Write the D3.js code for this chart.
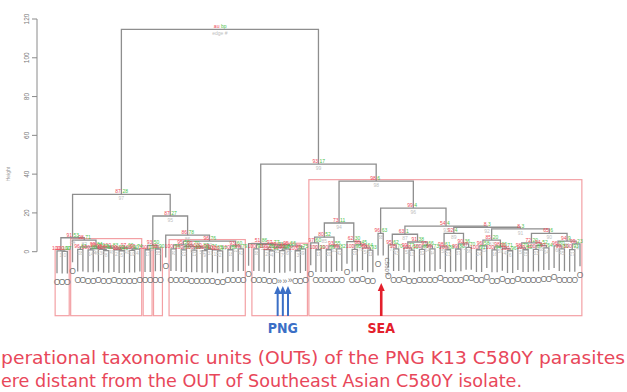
<!DOCTYPE html>
<html lang="en">
<head>
<meta charset="UTF-8">
<title>pvclust dendrogram of K13 C580Y isolates</title>
<script src="https://cdnjs.cloudflare.com/ajax/libs/d3/7.8.5/d3.min.js"></script>
<style>
  * { margin: 0; padding: 0; }
  body { background: #fff; width: 627px; height: 392px; overflow: hidden; }
  svg { display: block; font-family: "Liberation Sans", Arial, sans-serif; }
</style>
</head>
<body>
<svg id="chart" width="627" height="392"></svg>
<script>
// clusters: [height, au, bp, left, right], 0 = a leaf (isolate)
const cladeBox1 = [0.4, 100, 100, 0, [0.2, 100, 97, 0, 0]];
const cladeBox2 = [6.0, 98, 71, 0,
  [2.5, 99, 64, [1.2, 96, 62, 0, 0],
    [2.0, 100, 83,
      [1.6, 99, 70, [0.9, 100, 88, 0, 0], [1.2, 98, 55, 0, [0.6, 100, 91, 0, 0]]],
      [1.8, 97, 66, [1.0, 100, 92, 0, [0.5, 100, 95, 0, 0]], [1.3, 99, 74, [0.7, 100, 90, 0, 0], 0]]]]];
const cladeBox34 = [3.2, 93, 50, [1.0, 100, 100, 0, 0], [1.4, 99, 90, 0, 0]];
const cladeBox5 = [5.5, 96, 76,
  [3.5, 95, 58, [1.5, 100, 94, 0, 0],
    [2.6, 99, 70, [1.0, 100, 90, 0, 0],
      [2.0, 100, 80, [0.8, 100, 95, 0, 0],
        [1.2, 99, 74, [0.6, 100, 92, 0, 0], [0.9, 100, 85, 0, [0.4, 100, 97, 0, 0]]]]]],
  [3.0, 93, 60, [1.0, 100, 88, 0, 0], [1.5, 99, 79, 0, 0]]];
const cladeBox6 = [3.6, 97, 77, [1.5, 100, 93, 0, 0],
  [3.0, 95, 66,
    [2.2, 99, 71, [1.1, 100, 86, 0, [0.5, 100, 96, 0, 0]], [1.4, 99, 80, [0.6, 100, 94, 0, 0], 0]],
    [1.5, 98, 75, [0.5, 100, 97, 0, 0], 0]]];
const cladeSeaLeft = [14.8, 73, 11,
  [7.5, 80, 52, [4.5, 97, 60, 0, [1.0, 100, 99, 0, 0]], [3.0, 93, 55, [1.0, 100, 96, 0, 0], [1.5, 99, 82, 0, 0]]],
  [5.2, 62, 30, 0, [3.5, 88, 45, [1.2, 100, 90, 0, 0], [2.0, 96, 64, 0, [0.8, 100, 93, 0, 0]]]]];
const cladeSeaA = [9.0, 63, 1, [3.5, 95, 62, 0, [1.5, 98, 70, 0, 0]],
  [5.0, 91, 38, [2.0, 99, 77, 0, [0.8, 100, 90, 0, 0]], [3.0, 97, 66, [1.2, 100, 85, 0, 0], [1.5, 99, 73, 0, 0]]]];
const cladeSeaB1 = [9.5, 92, 4, [2.5, 98, 61, 0, [1.0, 100, 88, 0, 0]],
  [4.0, 90, 36, [1.4, 99, 80, 0, 0], [2.2, 97, 70, 0, 0]]];
const cladeSeaB2 = [11.8, 8, 3,
  [6.0, 85, 20, [3.0, 96, 58, [1.0, 100, 91, 0, 0], 0], [2.5, 98, 66, [0.9, 100, 94, 0, 0], [1.6, 99, 71, 0, [0.5, 100, 96, 0, 0]]]],
  [9.5, 65, 6,
    [4.5, 72, 20, [2.0, 98, 70, 0, [1.0, 100, 89, 0, 0]], [3.2, 94, 52, [1.2, 100, 87, 0, 0], [2.0, 97, 64, 0, 0]]],
    [5.5, 94, 9, [3.0, 96, 60, 0, [1.5, 99, 81, 0, 0]], [4.0, 99, 23, [1.1, 100, 93, 0, 0], 0]]]];

const tree = [114.6, 100, 100,
  [29.6, 87, 28,
    [7.2, 91, 53, cladeBox1, cladeBox2],
    [18.4, 87, 27, cladeBox34, [8.5, 86, 78, 0, cladeBox5]]],
  [45.2, 93, 17,
    [4.2, 51, 86, 0, cladeBox6],
    [36.4, 98, 6, cladeSeaLeft,
      [22.5, 99, 4, [9.5, 96, 63, 0, 0],
        [13.2, 54, 4, cladeSeaA, [12.6, 8, 3, cladeSeaB1, cladeSeaB2]]]]]];

const yTicks = [0, 20, 40, 60, 80, 100, 120];
const pngLeaves = [43, 44, 45];
const seaLeaf = 63;
const seaLeafName = "C580Y";
const captionLines = [
  "perational taxonomic units (OUTs) of the PNG K13 C580Y parasites",
  "ere distant from the OUT of Southeast Asian C580Y isolate."
];

const svg = d3.select("#chart");
svg.append("rect").attr("width", 627).attr("height", 392).attr("fill", "#fff");

const root = d3.hierarchy(tree, d => Array.isArray(d) ? [d[3], d[4]] : null);
const leaves = root.leaves();

const x = d3.scalePoint().domain(d3.range(leaves.length)).range([57, 580]);
const y = d3.scaleLinear().domain([0, 120]).range([251.7, 19]);
const hang = 0.1 * tree[0];
const step = x.step();

leaves.forEach((d, i) => { d.idx = i; d.x = x(i); });
root.eachAfter(d => {
  if (d.children) {
    d.h = d.data[0];
    d.x = (d.children[0].x + d.children[1].x) / 2;
  }
});
leaves.forEach(d => { d.h = d.parent.h - hang; });

// edge numbers follow merge order (ascending height)
const inner = root.descendants().filter(d => d.children);
inner.slice().sort((a, b) => a.h - b.h).forEach((d, i) => { d.edge = i; });

// y axis, R style
const ax = svg.append("g").attr("stroke", "#8a8a8a").attr("fill", "none");
ax.append("line").attr("x1", 37).attr("x2", 37).attr("y1", y(0)).attr("y2", y(120));
yTicks.forEach(t => {
  ax.append("line").attr("x1", 32).attr("x2", 37).attr("y1", y(t)).attr("y2", y(t));
  svg.append("text")
    .attr("transform", `translate(29,${y(t)}) rotate(-90)`)
    .attr("text-anchor", "middle")
    .attr("font-size", 6.5).attr("fill", "#777")
    .text(t);
});
svg.append("text")
  .attr("transform", `translate(10,${y(40)}) rotate(-90)`)
  .attr("text-anchor", "middle")
  .attr("font-size", 5).attr("fill", "#999")
  .text("Height");

// pvrect boxes: maximal clusters with au > 95
const boxes = [];
(function findBoxes(d) {
  if (d !== root && d.data[1] > 95) { boxes.push(d); return; }
  if (d.children) d.children.forEach(findBoxes);
})(root);

svg.append("g").selectAll("rect").data(boxes).join("rect")
  .attr("x", d => d.leaves()[0].x - step * 0.36)
  .attr("width", d => d.leaves()[d.leaves().length - 1].x - d.leaves()[0].x + step * 0.72)
  .attr("y", d => y(d.h + 0.75))
  .attr("height", d => y(-33) - y(d.h + 0.75))
  .attr("fill", "none").attr("stroke", "#f3a0a4").attr("stroke-width", 1.2);

// dendrogram branches
svg.append("g").selectAll("path").data(inner).join("path")
  .attr("d", d => {
    const [l, r] = d.children;
    return `M${l.x},${y(l.h)}V${y(d.h)}H${r.x}V${y(r.h)}`;
  })
  .attr("fill", "none").attr("stroke", "#8e8e8e").attr("stroke-width", 1.3);

// au / bp / edge labels
const lab = svg.append("g").attr("font-size", 5);
inner.filter(d => d !== root).forEach(d => {
  lab.append("text").attr("x", d.x - 0.5).attr("y", y(d.h) - 1.2)
    .attr("text-anchor", "end").attr("fill", "#ee4a58").text(d.data[1]);
  lab.append("text").attr("x", d.x + 1).attr("y", y(d.h) - 1.2)
    .attr("text-anchor", "start").attr("fill", "#4cc24c").text(d.data[2]);
  lab.append("text").attr("x", d.x).attr("y", y(d.h) + 6)
    .attr("text-anchor", "middle").attr("fill", "#c0c0c0").text(d.edge);
});
lab.append("text").attr("x", root.x - 0.5).attr("y", y(root.h) - 1.2)
  .attr("text-anchor", "end").attr("fill", "#ee4a58").text("au");
lab.append("text").attr("x", root.x + 1).attr("y", y(root.h) - 1.2)
  .attr("text-anchor", "start").attr("fill", "#4cc24c").text("bp");
lab.append("text").attr("x", root.x).attr("y", y(root.h) + 6)
  .attr("text-anchor", "middle").attr("fill", "#c0c0c0").text("edge #");

// leaf labels
leaves.forEach(d => {
  if (d.idx === seaLeaf) {
    svg.append("text")
      .attr("transform", `translate(${d.x + 2},${y(d.h) + 2}) rotate(90)`)
      .attr("font-size", 6).attr("fill", "#777").text(seaLeafName);
  } else {
    svg.append("text").attr("x", d.x).attr("y", y(d.h) + 11.5)
      .attr("text-anchor", "middle").attr("font-size", 8.5).attr("fill", "#777")
      .text(pngLeaves.includes(d.idx) ? "»" : "O");
  }
});

// annotation arrows
function arrow(cx, tipY, baseY, color, w) {
  svg.append("line").attr("x1", cx).attr("x2", cx).attr("y1", baseY).attr("y2", tipY + 6)
    .attr("stroke", color).attr("stroke-width", w);
  svg.append("path")
    .attr("d", `M${cx},${tipY}L${cx - 3.5},${tipY + 8}L${cx + 3.5},${tipY + 8}Z`)
    .attr("fill", color);
}
pngLeaves.forEach(i => arrow(x(i) - 2, 286, 316, "#3b6fc6", 2));
arrow(x(seaLeaf) - 2, 283, 316, "#e3202c", 2.6);

const pngX = d3.mean(pngLeaves, i => x(i) - 2);
svg.append("text").attr("x", pngX).attr("y", 333).attr("text-anchor", "middle")
  .attr("font-family", "'Liberation Sans Narrow', 'DejaVu Sans Condensed', sans-serif")
  .attr("font-weight", "bold").attr("font-size", 14).attr("fill", "#3b6fc6").text("PNG");
svg.append("text").attr("x", x(seaLeaf) - 2).attr("y", 333).attr("text-anchor", "middle")
  .attr("font-family", "'Liberation Sans Narrow', 'DejaVu Sans Condensed', sans-serif")
  .attr("font-weight", "bold").attr("font-size", 14).attr("fill", "#e3202c").text("SEA");

// caption
svg.selectAll("text.caption").data(captionLines).join("text")
  .attr("class", "caption")
  .attr("x", 1).attr("y", (d, i) => 364 + i * 23)
  .attr("font-family", "'Liberation Sans Narrow', 'DejaVu Sans Condensed', sans-serif")
  .attr("font-size", 18.5).attr("fill", "#e8475a")
  .attr("textLength", (d, i) => i === 0 ? 624 : 521)
  .attr("lengthAdjust", "spacingAndGlyphs")
  .text(d => d);
</script>
</body>
</html>
